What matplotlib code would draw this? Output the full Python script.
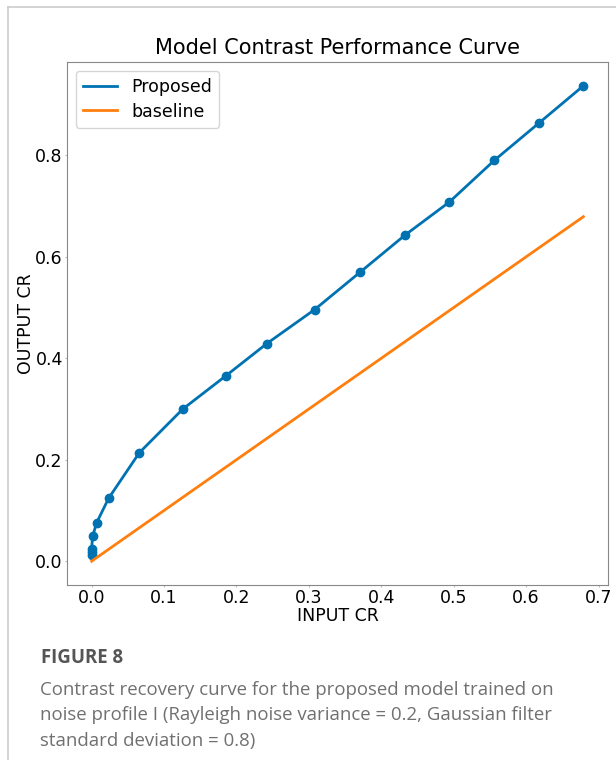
import numpy as np
import matplotlib
matplotlib.use('Agg')
import matplotlib.pyplot as plt
from matplotlib.lines import Line2D

plt.rcParams['font.family'] = ['DejaVu Sans']

########### values ####################################
inputCR = [0.0, 0.0, 0.0, 0.0014, 0.007, 0.0235, 0.066, 0.126, 0.185, 0.242,
	0.308, 0.371, 0.433, 0.494, 0.556, 0.618, 0.679]
outputCR = [0.012, 0.018, 0.024, 0.049, 0.076, 0.124, 0.214, 0.300, 0.365, 0.429,
	0.496, 0.570, 0.643, 0.708, 0.790, 0.864, 0.937]
baselineX = [0.0, 0.679]
baselineY = [0.0, 0.679]

captionTitle = 'FIGURE 8'
captionLines = ['Contrast recovery curve for the proposed model trained on',
	'noise profile I (Rayleigh noise variance = 0.2, Gaussian filter',
	'standard deviation = 0.8)']

blue = '#0072b2'
orange = '#ff7f0e'

fig = plt.figure(figsize = (6.16, 7.6), dpi = 100)
ax = fig.add_axes([67/616, 1 - 585/760, 541/616, 523/760])
ax.plot(inputCR, outputCR, '-o', color = blue, lw = 2, ms = 6)
ax.plot(baselineX, baselineY, '-', color = orange, lw = 2)
ax.set_xticks([0.0, 0.1, 0.2, 0.3, 0.4, 0.5, 0.6, 0.7])
ax.set_xticklabels(['0.0', '0.1', '0.2', '0.3', '0.4', '0.5', '0.6', '0.7'])
ax.set_yticks([0.0, 0.2, 0.4, 0.6, 0.8])
ax.tick_params(labelsize = 12.5, length = 1.5, pad = 1.5, color = '#bbbbbb')
ax.set_title('Model Contrast Performance Curve', fontsize = 15, pad = 6)
ax.set_xlabel('INPUT CR', fontsize = 12.5, labelpad = 0)
ax.set_ylabel('OUTPUT CR', fontsize = 12.5, labelpad = 0.5)
for side in ax.spines.values():
	side.set_color('#888888')
## legend shows plain lines, no markers
handles = [Line2D([], [], color = blue, lw = 2), Line2D([], [], color = orange, lw = 2)]
ax.legend(handles, ['Proposed', 'baseline'], loc = 'upper left', fontsize = 12.5,
	handlelength = 2.0, borderpad = 0.4, labelspacing = 0.4)

## page frame around the figure
fig.add_artist(Line2D([8/616, 1], [1 - 7/760, 1 - 7/760], color = '#cccccc', lw = 1.2))
fig.add_artist(Line2D([8/616, 8/616], [0, 1 - 7/760], color = '#cccccc', lw = 1.2))

fig.text(41/616, 1 - 658/760, captionTitle, fontsize = 13.4, fontweight = 'bold',
	color = '#555555', family = 'Open Sans', va = 'center')
for i, line in enumerate(captionLines):
	fig.text(40/616, 1 - (690 + 25.5*i)/760, line, fontsize = 13.4, color = '#707070',
		family = 'Open Sans', va = 'center')

fig.savefig('out.png', dpi = 100)
